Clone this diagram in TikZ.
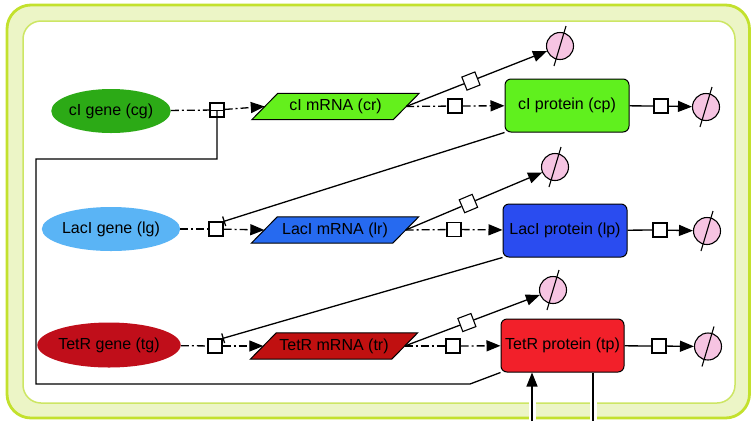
\documentclass[tikz,border=0pt]{standalone}
\usepackage{fontspec}
\setmainfont{Liberation Sans}
\usetikzlibrary{shapes.geometric,arrows.meta,backgrounds}

\definecolor{frameout}{RGB}{195,225,45}
\definecolor{framein}{RGB}{205,230,100}
\definecolor{framefill}{RGB}{236,245,198}
\definecolor{cgcol}{RGB}{44,170,22}
\definecolor{crcol}{RGB}{100,240,28}
\definecolor{cpcol}{RGB}{96,240,30}
\definecolor{lgcol}{RGB}{90,180,245}
\definecolor{lrcol}{RGB}{38,106,240}
\definecolor{lpcol}{RGB}{42,76,240}
\definecolor{tgcol}{RGB}{192,14,26}
\definecolor{trcol}{RGB}{192,16,16}
\definecolor{tpcol}{RGB}{242,32,42}
\definecolor{sinkpink}{RGB}{246,196,226}

\begin{document}
\begin{tikzpicture}[x=1pt,y=-1pt,
  every node/.style={font=\fontsize{16}{18}\selectfont},
  gene/.style={ellipse, minimum width=112pt, minimum height=44pt, inner sep=0pt},
  mrna/.style={rectangle, minimum width=141pt, minimum height=26pt, inner sep=0pt},
  prot/.style={rectangle, rounded corners=6pt, draw=black, line width=1pt,
               minimum width=124pt, minimum height=53pt, inner sep=0pt},
  proc/.style={rectangle, draw=black, fill=white, line width=1.1pt,
               minimum size=14pt, inner sep=0pt},
  sinknode/.style={circle, draw=black, fill=sinkpink, line width=1.1pt,
                   minimum size=27pt, inner sep=0pt},
  wire/.style={line width=1.3pt},
  dashdot/.style={wire, dash pattern=on 8pt off 3pt on 2pt off 3pt},
  arrowto/.style={-{Triangle[length=14pt,width=11pt]}},
  inhibit/.style={wire, -{Bar[width=10pt]}},
  halo/.style={white, line width=7pt},
]
\useasboundingbox (0,0) rectangle (751,421);

% compartment frame
\begin{scope}[on background layer]
  \draw[frameout, fill=framefill, line width=2.8pt, rounded corners=24pt]
    (7,5) rectangle (749.5,418);
  \draw[framein, fill=white, line width=1.5pt, rounded corners=18pt]
    (23,21) rectangle (735,403);
\end{scope}

% genes
\node[gene, fill=cgcol] (cg) at (111,111) {cI gene (cg)};
\node[gene, fill=lgcol] (lg) at (111,229) {LacI gene (lg)};
\node[gene, fill=tgcol, minimum width=114pt, minimum height=45pt] (tg) at (109,345) {TetR gene (tg)};

% transcription processes
\node[proc] (sq1) at (217,110) {};
\node[proc] (sq2) at (216,229) {};
\node[proc] (sq3) at (215,346) {};

% mRNAs (parallelogram bodies drawn behind)
\node[mrna] (cr) at (335.5,106.5) {cI mRNA (cr)};
\node[mrna] (lr) at (335,230) {LacI mRNA (lr)};
\node[mrna] (tr) at (334,346) {TetR mRNA (tr)};
\begin{scope}[on background layer]
  \foreach \n/\c in {cr/crcol, lr/lrcol, tr/trcol}{
    \draw[fill=\c, line width=1pt]
      ([xshift=-13pt]\n.south west) -- ([xshift=13pt]\n.north west) --
      ([xshift=13pt]\n.north east) -- ([xshift=-13pt]\n.south east) -- cycle;
  }
\end{scope}

% proteins
\node[prot, fill=cpcol] (cp) at (567,105.5) {cI protein (cp)};
\node[prot, fill=lpcol] (lp) at (565,230.5) {LacI protein (lp)};
\node[prot, fill=tpcol, minimum width=123pt] (tp) at (562.5,345.5) {TetR protein (tp)};

% translation processes
\node[proc] (tc) at (455,106) {};
\node[proc] (tl) at (454,229.5) {};
\node[proc] (tt) at (453,346) {};

% protein degradation processes and sinks
\node[proc] (pc) at (661,106) {};
\node[proc] (pl) at (660,230) {};
\node[proc] (pt) at (659,346) {};
\node[sinknode] (kcp) at (706,107) {};
\node[sinknode] (klp) at (707,231) {};
\node[sinknode] (ktp) at (708,346.5) {};

% mRNA degradation sinks
\node[sinknode] (kcr) at (560,46) {};
\node[sinknode] (klr) at (555,167) {};
\node[sinknode] (ktr) at (553,290) {};

% empty-set slashes
\foreach \s in {kcp,klp,ktp,kcr,klr,ktr}{
  \draw[line width=1.1pt] ([shift={(-6,20)}]\s.center) -- ([shift={(6,-20)}]\s.center);
}

% transcription
\foreach \g/\q/\m in {cg/sq1/cr, lg/sq2/lr, tg/sq3/tr}{
  \draw[dashdot] (\g) -- (\q);
  \draw[dashdot, arrowto] (\q) -- (\m.west);
}

% translation
\foreach \m/\q/\p in {cr/tc/cp, lr/tl/lp, tr/tt/tp}{
  \draw[dashdot] (\m.east) -- (\q);
  \draw[dashdot, arrowto] (\q) -- (\p);
}

% mRNA degradation
\foreach \m/\k/\d in {cr/kcr/dc, lr/klr/dl, tr/ktr/dt}{
  \path (\m.east) -- (\k) node[proc, sloped, pos=0.46] (\d) {};
  \draw[wire] (\m.east) -- (\d);
  \draw[wire, arrowto] (\d) -- (\k);
}

% protein degradation
\foreach \p/\q/\k in {cp/pc/kcp, lp/pl/klp, tp/pt/ktp}{
  \draw[wire] (\p) -- (\q);
  \draw[wire, arrowto] (\q) -- (\k);
}

% repression
\draw[inhibit] (cp.south west) -- (sq2.north east);
\draw[inhibit] (lp.south west) -- (sq3.north east);
\coordinate (k1) at (470,384);
\coordinate (k2) at (36,384);
\coordinate (k3) at (36,159);
\coordinate (k4) at (217,159);
\draw[wire, -{Bar[width=14pt]}] (tp.south west) -- (k1) -- (k2) -- (k3) -- (k4) -- (sq1.center);

% external links of TetR protein
\coordinate (inA) at (532,421);
\coordinate (outB) at (593,421);
\draw[halo] (inA) -- ++(0,-26);
\draw[halo] (outB) -- ++(0,-26);
\draw[wire, arrowto] (inA) -- (inA |- tp.south);
\draw[wire] (outB |- tp.south) -- (outB);
\end{tikzpicture}
\end{document}
